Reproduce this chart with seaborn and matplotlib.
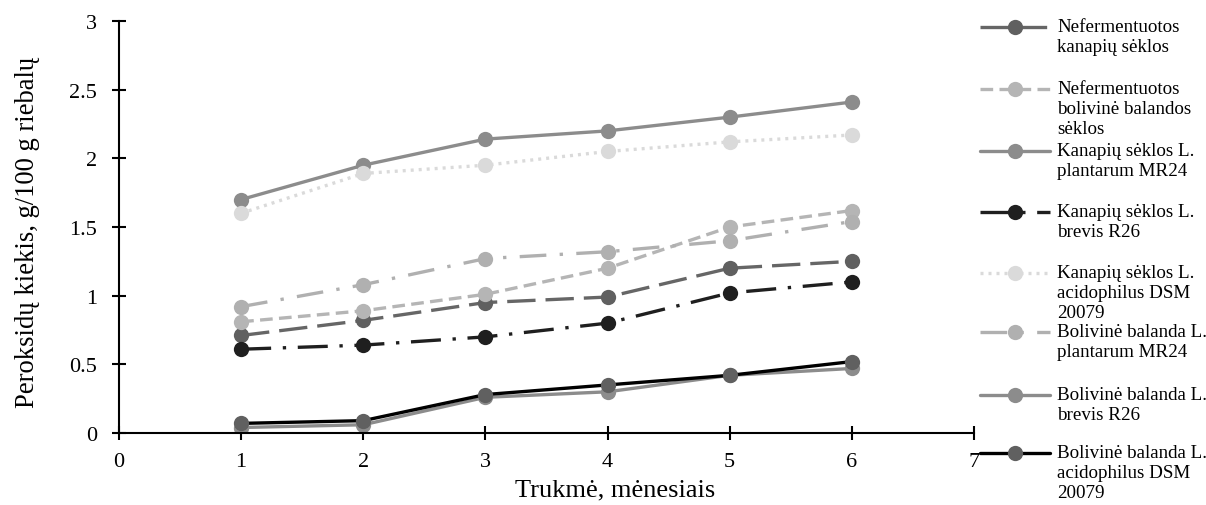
import matplotlib
matplotlib.use("Agg")
import matplotlib.pyplot as plt
from matplotlib.lines import Line2D
import seaborn as sns
import pandas as pd

months = [1, 2, 3, 4, 5, 6]

nef_kanapiu = [0.71, 0.82, 0.95, 0.99, 1.20, 1.25]
nef_bolivine = [0.81, 0.89, 1.01, 1.20, 1.50, 1.62]
kan_plantarum = [1.70, 1.95, 2.14, 2.20, 2.30, 2.41]
kan_brevis = [0.61, 0.64, 0.70, 0.80, 1.02, 1.10]
kan_acidophilus = [1.60, 1.89, 1.95, 2.05, 2.12, 2.17]
bol_plantarum = [0.92, 1.08, 1.27, 1.32, 1.40, 1.54]
bol_brevis = [0.04, 0.06, 0.26, 0.30, 0.42, 0.47]
bol_acidophilus = [0.07, 0.09, 0.28, 0.35, 0.42, 0.52]

labels = [
    "Nefermentuotos\nkanapių sėklos",
    "Nefermentuotos\nbolivinė balandos\nsėklos",
    "Kanapių sėklos L.\nplantarum MR24",
    "Kanapių sėklos L.\nbrevis R26",
    "Kanapių sėklos L.\nacidophilus DSM\n20079",
    "Bolivinė balanda L.\nplantarum MR24",
    "Bolivinė balanda L.\nbrevis R26",
    "Bolivinė balanda L.\nacidophilus DSM\n20079",
]
series = [nef_kanapiu, nef_bolivine, kan_plantarum, kan_brevis,
          kan_acidophilus, bol_plantarum, bol_brevis, bol_acidophilus]

x_ticks = [0, 1, 2, 3, 4, 5, 6, 7]
y_ticks = [0, 0.5, 1, 1.5, 2, 2.5, 3]
y_tick_labels = ["0", "0.5", "1", "1.5", "2", "2.5", "3"]

styles = [
    dict(color="#666666", mfc="#606060", ls=(0, (8.5, 3))),
    dict(color="#b5b5b5", mfc="#b5b5b5", ls=(0, (3.8, 1.9))),
    dict(color="#8c8c8c", mfc="#8c8c8c", ls="-"),
    dict(color="#1f1f1f", mfc="#1f1f1f", ls=(0, (9, 3.5, 1, 3.5))),
    dict(color="#dadada", mfc="#dadada", ls=(0, (0.9, 1.5))),
    dict(color="#b0b0b0", mfc="#b0b0b0", ls=(0, (8, 4, 1, 4))),
    dict(color="#8c8c8c", mfc="#8c8c8c", ls="-"),
    dict(color="#000000", mfc="#606060", ls="-"),
]

sns.set_style("white")
plt.rcParams["font.family"] = ["Liberation Serif", "DejaVu Serif"]

fig = plt.figure(figsize=(12.06, 5.06), dpi=100)
ax = fig.add_axes([119 / 1206, 1 - 434 / 506, (974 - 119) / 1206, (434 - 22) / 506])

lw = 2.4
ms = 11
for vals, st in zip(series, styles):
    df = pd.DataFrame({"m": months, "v": vals})
    sns.lineplot(data=df, x="m", y="v", ax=ax, color=st["color"], linestyle=st["ls"],
                 linewidth=lw, marker="o", markersize=ms, markerfacecolor=st["mfc"],
                 markeredgecolor=st["mfc"], markeredgewidth=0, legend=False)

ax.set_xlim(0, 7)
ax.set_ylim(0, 3)
ax.set_xticks(x_ticks)
ax.set_xticklabels([str(t) for t in x_ticks])
ax.set_yticks(y_ticks)
ax.set_yticklabels(y_tick_labels)
for s in ["top", "right"]:
    ax.spines[s].set_visible(False)
for s in ["left", "bottom"]:
    ax.spines[s].set_color("black")
    ax.spines[s].set_linewidth(1.5)
ax.tick_params(axis="both", direction="inout", length=10, width=1.5, colors="black",
               labelsize=16, bottom=True, left=True)
ax.tick_params(axis="y", pad=11)
ax.tick_params(axis="x", pad=9)
ax.set_xlabel("Trukmė, mėnesiais", fontsize=19, color="black")
ax.set_ylabel("Peroksidų kiekis, g/100 g riebalų", fontsize=19.2, color="black")
ax.xaxis.set_label_coords(0.58, -0.11)
ax.yaxis.set_label_coords(-0.092, 0.49)
ax.grid(False)

# legend drawn manually at right
leg_y = [28, 90, 152, 213, 274, 333, 396, 454]
for (lab, st, yc) in zip(labels, styles, leg_y):
    yf = 1 - yc / 506
    fig.add_artist(Line2D([980 / 1206, 1050 / 1206], [yf, yf], transform=fig.transFigure,
                          color=st["color"], linestyle=st["ls"], linewidth=lw))
    fig.add_artist(Line2D([1015 / 1206], [yf], transform=fig.transFigure,
                          color=st["mfc"], marker="o", markersize=ms, markeredgewidth=0,
                          linestyle="none"))
    fig.text(1057 / 1206, 1 - (yc - 9) / 506, lab, fontsize=13.7, va="top", ha="left",
             color="black", linespacing=1.22)

fig.savefig("out.png", dpi=100)
